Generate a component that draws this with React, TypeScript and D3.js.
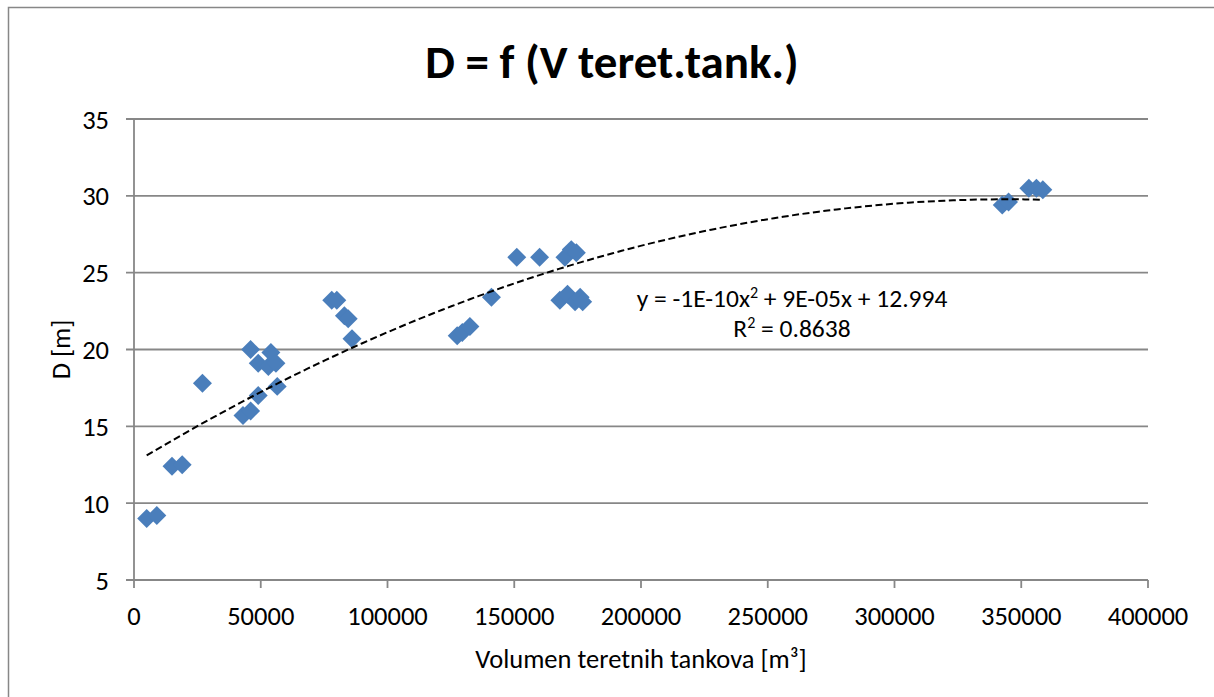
import * as d3 from "d3";
import { useMemo } from "react";

// cargo tank volume [m³] vs. draught D [m]
const VOLUMES = [
  5000, 9000, 15000, 19000, 27000, 43000, 46000, 46000, 49000, 49000, 53000,
  54000, 56000, 56500, 78000, 80000, 83000, 84500, 86000, 127500, 129500,
  132500, 141000, 151000, 160000, 170000, 172500, 174500, 168000, 171000,
  174000, 176000, 177000, 342500, 345000, 353000, 356000, 358500,
];
const DRAUGHTS = [
  9.0, 9.2, 12.4, 12.5, 17.8, 15.7, 16.0, 20.0, 19.1, 17.0, 18.9, 19.8, 19.1,
  17.6, 23.2, 23.2, 22.2, 22.0, 20.7, 20.9, 21.1, 21.5, 23.4, 26.0, 26.0, 26.0,
  26.5, 26.3, 23.2, 23.6, 23.1, 23.4, 23.1, 29.4, 29.6, 30.5, 30.5, 30.4,
];

const X_DOMAIN = [0, 400000];
const Y_DOMAIN = [5, 35];
const TITLE = "D = f (V teret.tank.)";
const X_TITLE = "Volumen teretnih tankova [m³]";
const Y_TITLE = "D [m]";
const EQUATION = ["y = -1E-10x", "2", " + 9E-05x + 12.994"];
const R_SQUARED = ["R", "2", " = 0.8638"];

const WIDTH = 1214;
const HEIGHT = 697;
const PLOT = { left: 134, right: 1148, top: 119, bottom: 580 };
const FONT = "Carlito, Calibri, Lato, sans-serif";
const LABEL_SIZE = 26.5;
const EQ_SIZE = 25.5;
const GRID = "#878787";
const MARKER = "#4a7ebb";

// least squares fit of y = a x² + b x + c (what Excel's trendline does)
function fitQuadratic(xs: number[], ys: number[]) {
  const s = [0, 0, 0, 0, 0];
  const t = [0, 0, 0];
  xs.forEach((x, i) => {
    for (let k = 0; k < 5; k++) s[k] += Math.pow(x, k);
    for (let k = 0; k < 3; k++) t[k] += ys[i] * Math.pow(x, k);
  });
  // augmented matrix for [c, b, a]
  const m = [
    [s[0], s[1], s[2], t[0]],
    [s[1], s[2], s[3], t[1]],
    [s[2], s[3], s[4], t[2]],
  ];
  for (let i = 0; i < 3; i++) {
    let p = i;
    for (let r = i + 1; r < 3; r++)
      if (Math.abs(m[r][i]) > Math.abs(m[p][i])) p = r;
    [m[i], m[p]] = [m[p], m[i]];
    for (let r = 0; r < 3; r++) {
      if (r === i) continue;
      const f = m[r][i] / m[i][i];
      for (let c = i; c < 4; c++) m[r][c] -= f * m[i][c];
    }
  }
  const c0 = m[0][3] / m[0][0];
  const b = m[1][3] / m[1][1];
  const a = m[2][3] / m[2][2];
  return (x: number) => a * x * x + b * x + c0;
}

export default function App() {
  const x = useMemo(
    () => d3.scaleLinear().domain(X_DOMAIN).range([PLOT.left, PLOT.right]),
    [],
  );
  const y = useMemo(
    () => d3.scaleLinear().domain(Y_DOMAIN).range([PLOT.bottom, PLOT.top]),
    [],
  );

  const points = VOLUMES.map((v, i) => ({ v, d: DRAUGHTS[i] }));

  const trendPath = useMemo(() => {
    const f = fitQuadratic(VOLUMES, DRAUGHTS);
    const [lo, hi] = d3.extent(VOLUMES) as [number, number];
    const samples = d3.range(0, 101).map((i) => lo + ((hi - lo) * i) / 100);
    return d3
      .line<number>()
      .x((v) => x(v))
      .y((v) => y(f(v)))(samples);
  }, [x, y]);

  const diamond = d3.symbol(d3.symbolSquare, 180)() ?? "";
  const fmt = d3.format("d");
  const xTicks = x.ticks(8);
  const yTicks = y.ticks(6);
  const eqX = 792;

  return (
    <svg
      width={WIDTH}
      height={HEIGHT}
      style={{ position: "absolute", left: 0, top: 0, background: "white" }}
      fontFamily={FONT}
    >
      <rect
        x={8.5}
        y={7.5}
        width={WIDTH + 20}
        height={HEIGHT + 20}
        fill="white"
        stroke={GRID}
        strokeWidth={1.5}
      />

      <text
        x={612}
        y={78}
        textAnchor="middle"
        fontSize={47}
        fontWeight="bold"
        fill="#000"
      >
        {TITLE}
      </text>

      {/* horizontal gridlines + y ticks */}
      {yTicks.map((t) => (
        <g key={`y${t}`}>
          <line
            x1={PLOT.left - 8}
            x2={PLOT.right}
            y1={y(t)}
            y2={y(t)}
            stroke={GRID}
            strokeWidth={1.8}
          />
          <text
            x={109}
            y={y(t)}
            dy="0.36em"
            textAnchor="end"
            fontSize={LABEL_SIZE}
            fill="#000"
          >
            {fmt(t)}
          </text>
        </g>
      ))}

      {/* y axis line */}
      <line
        x1={PLOT.left}
        x2={PLOT.left}
        y1={PLOT.top}
        y2={PLOT.bottom}
        stroke={GRID}
        strokeWidth={1.8}
      />

      {/* x ticks */}
      {xTicks.map((t) => (
        <g key={`x${t}`}>
          <line
            x1={x(t)}
            x2={x(t)}
            y1={PLOT.bottom}
            y2={PLOT.bottom + 8}
            stroke={GRID}
            strokeWidth={1.8}
          />
          <text
            x={x(t)}
            y={615}
            dy="0.36em"
            textAnchor="middle"
            fontSize={LABEL_SIZE}
            fill="#000"
          >
            {fmt(t)}
          </text>
        </g>
      ))}

      <text
        x={641}
        y={658}
        dy="0.36em"
        textAnchor="middle"
        fontSize={LABEL_SIZE}
        fill="#000"
      >
        {X_TITLE}
      </text>
      <text
        transform={`translate(60, ${y(20)}) rotate(-90)`}
        dy="0.36em"
        textAnchor="middle"
        fontSize={LABEL_SIZE}
        fill="#000"
      >
        {Y_TITLE}
      </text>

      {/* data */}
      {points.map((p, i) => (
        <path
          key={i}
          d={diamond}
          transform={`translate(${x(p.v)}, ${y(p.d)}) rotate(45)`}
          fill={MARKER}
        />
      ))}

      {trendPath && (
        <path
          d={trendPath}
          fill="none"
          stroke="#000"
          strokeWidth={2}
          strokeDasharray="7 3.5"
        />
      )}

      <text x={eqX} y={307} textAnchor="middle" fontSize={EQ_SIZE} fill="#000">
        {EQUATION[0]}
        <tspan dy={-9} fontSize={16}>
          {EQUATION[1]}
        </tspan>
        <tspan dy={9}>{EQUATION[2]}</tspan>
      </text>
      <text x={eqX} y={337} textAnchor="middle" fontSize={EQ_SIZE} fill="#000">
        {R_SQUARED[0]}
        <tspan dy={-9} fontSize={16}>
          {R_SQUARED[1]}
        </tspan>
        <tspan dy={9}>{R_SQUARED[2]}</tspan>
      </text>
    </svg>
  );
}
